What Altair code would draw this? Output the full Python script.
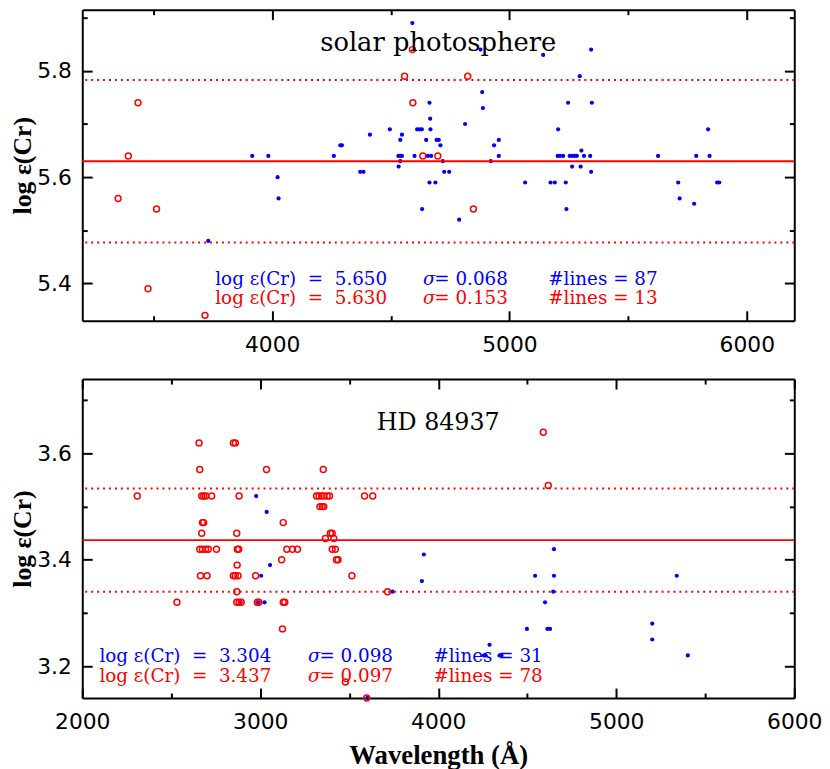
import altair as alt
import pandas as pd

# ---------------- data ----------------
# Solar photosphere, Cr I (blue dots)
sun_cr1_wave = [4591, 3916, 3984, 4023, 4027, 3731, 4260, 4287, 4294, 4371,
                4385, 4412, 4496, 4532, 4540, 4547, 4533, 4540, 4540, 4547,
                4600, 4611, 4621, 4631, 4632, 4649, 4656, 4670, 4663, 4666,
                4667, 4663, 4688, 4693, 4702, 4709, 4719, 4725, 4746, 4788,
                4813, 4878, 4885, 4888, 4921, 4935, 4955, 4955, 5066, 5142,
                5173, 5191, 5205, 5203, 5213, 5226, 5237, 5240, 5247, 5254,
                5264, 5275, 5284, 5264, 5296, 5300, 5303, 5314, 5340, 5344,
                5347, 5344, 5626, 5711, 5717, 5778, 5787, 5837, 5843, 5875,
                5884]
sun_cr1_abund = [5.89, 5.64, 5.64, 5.60, 5.56, 5.48, 5.64, 5.66, 5.66, 5.61,
                 5.61, 5.68, 5.69, 5.64, 5.64, 5.64, 5.62, 5.63, 5.67, 5.68,
                 5.64, 5.69, 5.69, 5.69, 5.54, 5.67, 5.64, 5.64, 5.74, 5.71,
                 5.69, 5.59, 5.59, 5.67, 5.67, 5.66, 5.63, 5.61, 5.61, 5.52,
                 5.70, 5.84, 5.76, 5.73, 5.63, 5.66, 5.67, 5.64, 5.59, 5.83,
                 5.59, 5.59, 5.69, 5.64, 5.64, 5.64, 5.59, 5.54, 5.74, 5.64,
                 5.64, 5.64, 5.64, 5.62, 5.79, 5.62, 5.65, 5.64, 5.64, 5.84,
                 5.74, 5.61, 5.64, 5.59, 5.56, 5.55, 5.64, 5.69, 5.64, 5.59,
                 5.59]
# Solar photosphere, Cr II (red open circles)
sun_cr2_wave = [3351, 3394, 3435, 3477, 3513, 3717, 4558, 4591, 4593, 4635,
                4698, 4824, 4848]
sun_cr2_abund = [5.56, 5.64, 5.74, 5.39, 5.54, 5.34, 5.79, 5.84, 5.74, 5.64,
                 5.64, 5.79, 5.54]

# HD 84937, Cr I (blue dots)
hd_cr1_wave = [2888, 2977, 2986, 3005, 3024, 3036, 3055, 3602, 3743, 3908,
               3919, 4257, 4266, 4288, 4344, 4355, 4498, 4544, 4600, 4613,
               4628, 4646, 4650, 4650, 5202, 5202, 5340, 5402]
hd_cr1_abund = [3.32, 3.52, 3.32, 3.37, 3.32, 3.49, 3.39, 3.14, 3.34, 3.36,
                3.41, 3.22, 3.22, 3.24, 3.22, 3.22, 3.27, 3.37, 3.32, 3.27,
                3.27, 3.34, 3.42, 3.37, 3.28, 3.25, 3.37, 3.22]
# HD 84937, Cr II (red open circles)
hd_cr2_wave = [2309, 2532, 2656, 2660, 2671, 2682, 2693, 2727, 2675, 2682,
               2671, 2660, 2675, 2693, 2708, 2754, 2664, 2701, 2849, 2860,
               2881, 2868, 2871, 2879, 2870, 2849, 2860, 2875, 2868, 2868,
               2881, 2893, 2974, 2983, 2992, 3035, 3129, 3120, 3129, 3138,
               3125, 3149, 3181, 3209, 3354, 3316, 3330, 3344, 3357, 3376,
               3389, 3335, 3348, 3357, 3394, 3404, 3366, 3413, 3404, 3422,
               3428, 3437, 3515, 3586, 3632, 3478, 3598, 3715, 4590, 4618]
hd_cr2_abund = [3.52, 3.32, 3.62, 3.57, 3.52, 3.52, 3.52, 3.52, 3.47, 3.47,
                3.45, 3.42, 3.42, 3.42, 3.42, 3.42, 3.37, 3.37, 3.62, 3.62,
                3.52, 3.45, 3.42, 3.42, 3.39, 3.37, 3.37, 3.37, 3.34, 3.32,
                3.32, 3.32, 3.37, 3.32, 3.32, 3.57, 3.47, 3.40, 3.32, 3.32,
                3.27, 3.42, 3.42, 3.42, 3.57, 3.52, 3.52, 3.52, 3.52, 3.52,
                3.52, 3.50, 3.50, 3.50, 3.45, 3.45, 3.44, 3.44, 3.42, 3.42,
                3.40, 3.40, 3.37, 3.52, 3.52, 3.17, 3.14, 3.34, 3.64, 3.54]

# mean and sigma of the Cr II lines (red lines)
sun_mean, sun_sigma = 5.630, 0.153
hd_mean, hd_sigma = 3.437, 0.097

# statistics text
NB = "\u00a0"
sun_stats_blue = ["log \u03b5(Cr) " + NB + "=" + NB + " 5.650", "= 0.068", "#lines = 87"]
sun_stats_red = ["log \u03b5(Cr) " + NB + "=" + NB + " 5.630", "= 0.153", "#lines = 13"]
hd_stats_blue = ["log \u03b5(Cr) " + NB + "=" + NB + " 3.304", "= 0.098", "#lines = 31"]
hd_stats_red = ["log \u03b5(Cr) " + NB + "=" + NB + " 3.437", "= 0.097", "#lines = 78"]

# axes
sun_xdomain = [3200, 6200]
sun_xticks = [3500, 4000, 4500, 5000, 5500, 6000]
sun_ydomain = [5.33, 5.915]
sun_yticks = [5.4, 5.5, 5.6, 5.7, 5.8, 5.9]
hd_xdomain = [2000, 6000]
hd_xticks = [2000, 2500, 3000, 3500, 4000, 4500, 5000, 5500, 6000]
hd_ydomain = [3.14, 3.74]
hd_yticks = [3.2, 3.3, 3.4, 3.5, 3.6, 3.7]

# ---------------- styling ----------------
W = 719
H_TOP, H_BOTTOM = 314, 322
BLUE, RED = "#0000ff", "#ff0000"
TICK_FONT = "DejaVu Sans"
TITLE_FONT = "Liberation Serif"
TEXT_FONT = "DejaVu Serif"
STAT_SIZE = 18.5

x_tick_expr = "datum.value % 1000 === 0 ? -10 : -5"
y_tick_expr = "round(datum.value * 10) % 2 === 0 ? -10 : -5"
x_label_expr = "datum.value % 1000 === 0 ? datum.label : ''"
y_label_expr = "round(datum.value * 10) % 2 === 0 ? datum.label : ''"

one = pd.DataFrame({"_": [0]})


def text_mark(txt, x, y, color, size, font=TEXT_FONT, style="normal",
              weight="normal", align="left"):
    return alt.Chart(one).mark_text(
        text=txt, color=color, fontSize=size, font=font, fontStyle=style,
        fontWeight=weight, align=align, baseline="alphabetic"
    ).encode(x=alt.value(x), y=alt.value(y))


def stats_row(vals, y, color, x1, x2, x3):
    return [
        text_mark(vals[0], x1, y, color, STAT_SIZE),
        text_mark("\u03c3", x2, y, color, STAT_SIZE, style="italic"),
        text_mark(vals[1], x2 + 11.5, y, color, STAT_SIZE),
        text_mark(vals[2], x3, y, color, STAT_SIZE),
    ]


def panel(bw, ba, rw, ra, mean, sigma, title, title_size, title_y, xdom,
          xticks, ydom, yticks, blue_stats, red_stats, cols, rows, height,
          show_xtitle):
    blue = pd.DataFrame({"wave": bw, "abund": ba})
    red = pd.DataFrame({"wave": rw, "abund": ra})
    xs = alt.Scale(domain=xdom, nice=False, zero=False)
    ys = alt.Scale(domain=ydom, nice=False, zero=False)

    xaxis = alt.Axis(
        orient="bottom", values=xticks, format="d", labelExpr=x_label_expr,
        tickSize={"expr": x_tick_expr}, labelPadding=24, labelFlush=False,
        labelOverlap=False, grid=False,
        title="Wavelength (\u00c5)" if show_xtitle else None,
        titleFont=TITLE_FONT, titleFontSize=27, titleFontWeight="bold",
        titlePadding=5, titleColor="black",
    )
    yaxis = alt.Axis(
        orient="left", values=yticks, format=".1f", labelExpr=y_label_expr,
        tickSize={"expr": y_tick_expr}, labelPadding=21, labelFlush=False,
        labelOverlap=False, grid=False, title="log \u03b5(Cr)",
        titleFont=TITLE_FONT, titleFontSize=26, titleFontWeight="bold",
        titlePadding=1, titleColor="black",
    )
    x_enc = alt.X("wave:Q", scale=xs, axis=xaxis)
    y_enc = alt.Y("abund:Q", scale=ys, axis=yaxis)

    blue_pts = alt.Chart(blue).mark_circle(color=BLUE, size=18, opacity=1).encode(
        x=x_enc, y=y_enc)
    red_pts = alt.Chart(red).mark_point(
        shape="circle", filled=False, color=RED, size=36, strokeWidth=1.5,
        opacity=1).encode(x=x_enc, y=y_enc)

    lines = pd.DataFrame({"abund": [mean - sigma, mean + sigma]})
    dotted = alt.Chart(lines).mark_rule(
        color=RED, strokeWidth=2, strokeDash=[2, 4]).encode(y=y_enc)
    solid = alt.Chart(pd.DataFrame({"abund": [mean]})).mark_rule(
        color=RED, strokeWidth=2).encode(y=y_enc)

    texts = [text_mark(title, W / 2, title_y, "black", title_size, align="center")]
    texts += stats_row(blue_stats, rows[0], BLUE, *cols)
    texts += stats_row(red_stats, rows[1], RED, *cols)

    main = alt.layer(blue_pts, red_pts, dotted, solid, *texts)

    mirror = alt.Chart(blue).mark_point(opacity=0).encode(
        x=alt.X("wave:Q", scale=xs, axis=alt.Axis(
            orient="top", values=xticks, labels=False, title=None, grid=False,
            tickSize={"expr": x_tick_expr})),
        y=alt.Y("abund:Q", scale=ys, axis=alt.Axis(
            orient="right", values=yticks, labels=False, title=None, grid=False,
            tickSize={"expr": y_tick_expr})),
    )
    return alt.layer(main, mirror).resolve_scale(
        x="independent", y="independent").properties(width=W, height=height)


top = panel(sun_cr1_wave, sun_cr1_abund, sun_cr2_wave, sun_cr2_abund,
            sun_mean, sun_sigma, "solar photosphere", 26, 42,
            sun_xdomain, sun_xticks, sun_ydomain, sun_yticks,
            sun_stats_blue, sun_stats_red, (134.3, 344, 470.6), (277.5, 297.5),
            H_TOP, False)
bottom = panel(hd_cr1_wave, hd_cr1_abund, hd_cr2_wave, hd_cr2_abund,
               hd_mean, hd_sigma, "HD 84937", 24, 51,
               hd_xdomain, hd_xticks, hd_ydomain, hd_yticks,
               hd_stats_blue, hd_stats_red, (17.3, 228, 354.6), (285.5, 305.5),
               H_BOTTOM, True)

chart = alt.vconcat(top, bottom, spacing=59, bounds="flush").properties(
    padding={"left": 2, "top": -5, "right": 0, "bottom": 0}
).configure_view(stroke=None).configure_axis(
    domainColor="black", domainWidth=2, tickColor="black", tickWidth=2,
    labelFont=TICK_FONT, labelFontSize=22, labelColor="black",
)

chart.save("out.html", embed_options={"renderer": "svg", "actions": False})
